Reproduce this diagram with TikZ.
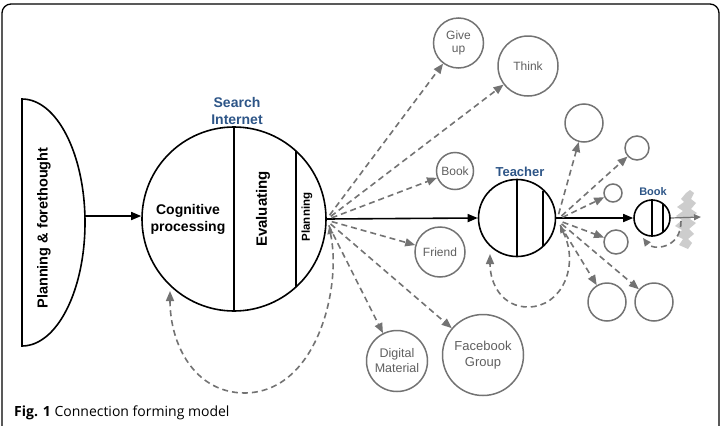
\documentclass[tikz,border=0pt]{standalone}
\usepackage{fontspec}
\setmainfont{Liberation Sans}
\newfontfamily\capfont{Open Sans}
\usetikzlibrary{arrows.meta,calc}
\definecolor{gline}{RGB}{115,115,115}
\definecolor{gcircle}{RGB}{115,115,115}
\definecolor{gtext}{RGB}{95,95,95}
\definecolor{lblue}{RGB}{45,85,135}
\definecolor{jag}{RGB}{205,205,205}
\begin{document}
\begin{tikzpicture}[x=1pt,y=-1pt,
  blk/.style={draw=black, line width=1.6pt, circle, inner sep=0pt},
  gcirc/.style={draw=gcircle, line width=1.5pt, circle, inner sep=0pt, text=gtext, font=\fontsize{12}{13.5}\selectfont, align=center},
  darr/.style={draw=gline, line width=1.6pt, dash pattern=on 6pt off 4pt, -{Triangle[length=10pt,width=8pt]}, shorten <=6pt},
  sarr/.style={draw=black, line width=1.6pt, -{Triangle[length=10pt,width=8pt]}},
  bluelabel/.style={text=lblue, font=\bfseries\fontsize{13}{17}\selectfont, align=center},
  boldtxt/.style={font=\bfseries\fontsize{14}{17}\selectfont, align=center},
]
\useasboundingbox (0,0) rectangle (721,426);
% frame
\draw[line width=1.3pt, rounded corners=9pt] (2,440) -- (2,4) -- (719,4) -- (719,440);

% half ellipse
\draw[line width=1.6pt] (22,99) -- (22,346) .. controls (56.8,346) and (85,290.7) .. (85,222.5) .. controls (85,154.3) and (56.8,99) .. cycle;
\coordinate (pfE) at (85,216);
\node[rotate=90, font=\bfseries\fontsize{14.5}{16}\selectfont] (pftext) at (44,228) {Planning \& forethought};

% main black circles
\node[blk, minimum size=184pt] (big) at (234,219) {};
\node[blk, minimum size=77pt] (teacher) at (517,218) {};
\node[blk, minimum size=36pt] (bookc) at (652,218) {};

% dividers
\draw[line width=1.6pt] (big.north) -- (big.south);
\draw[line width=1.6pt] (296,151) -- (296,287);
\draw[line width=1.6pt] (teacher.north) -- (teacher.south);
\draw[line width=1.6pt] (543,190.5) -- (543,245.5);
\draw[line width=1.4pt] (bookc.north) -- (bookc.south);
\draw[line width=1.4pt] (663,204) -- (663,232);

% texts in big circle
\node[boldtxt] (cog) at (188,219) {Cognitive\\processing};
\node[rotate=90, font=\bfseries\fontsize{15}{17}\selectfont] (eval) at (263,209) {Evaluating};
\node[rotate=90, font=\bfseries\fontsize{11.5}{13}\selectfont] (plan) at (307,217) {Planning};
\node[bluelabel, font=\bfseries\fontsize{14}{17}\selectfont] (search) at (237,110.5) {Search\\Internet};
\node[bluelabel] (teacherlbl) at (520,172) {Teacher};
\node[bluelabel, font=\bfseries\fontsize{11}{13}\selectfont] (booklbl) at (653,192) {Book};

% gray circles
\node[gcirc, minimum size=50pt] (giveup) at (458.5,43) {Give\\up};
\node[gcirc, minimum size=60pt] (think) at (528,66) {Think};
\node[gcirc, minimum size=37pt] (bookg) at (455,171) {Book};
\node[gcirc, minimum size=50pt] (friend) at (440,252) {Friend};
\node[gcirc, minimum size=61pt, font=\fontsize{12.5}{15}\selectfont] (digital) at (397,361) {Digital\\Material};
\node[gcirc, minimum size=81pt, font=\fontsize{13}{16}\selectfont] (facebook) at (483,355) {Facebook\\Group};
\node[gcirc, minimum size=38pt] (s1) at (584,123) {};
\node[gcirc, minimum size=24pt] (s2) at (637,148) {};
\node[gcirc, minimum size=18pt] (s3) at (613,193) {};
\node[gcirc, minimum size=24pt] (s4) at (616,242) {};
\node[gcirc, minimum size=38pt] (s5) at (607,302) {};
\node[gcirc, minimum size=38pt] (s6) at (654,302) {};

% emanation points
\coordinate (e1) at (326,220);
\coordinate (e2) at (557,220);
\coordinate (bl) at (170,291);
\coordinate (tl) at (490,254);
\coordinate (bkl) at (643,238);

% solid arrows
\draw[sarr] (pfE) -- (big.west |- pfE);
\draw[sarr] (big.east) -- (teacher.west);
\draw[sarr] (teacher.east) -- (bookc.west);

% dashed arrows from big circle
\draw[darr] (e1) -- (giveup);
\draw[darr] (e1) -- (think);
\draw[darr] (e1) -- (bookg);
\draw[darr] (e1) -- (friend);
\draw[darr] (e1) -- (facebook);
\draw[darr] (e1) -- (digital);
\draw[darr, shorten <=0pt, {Triangle[length=7pt,width=6pt]}-{Triangle[length=10pt,width=8pt]}] (329,227) .. controls (342,285) and (318,392) .. (245,393) .. controls (195,393) and (170,345) .. (bl);

% dashed arrows from teacher
\draw[darr] (e2) -- (s1);
\draw[darr] (e2) -- (s2);
\draw[darr] (e2) -- (s3);
\draw[darr] (e2) -- (s4);
\draw[darr] (e2) -- (s5);
\draw[darr] (e2) -- (s6);
\draw[darr, shorten <=0pt, {Triangle[length=7pt,width=6pt]}-{Triangle[length=10pt,width=8pt]}] (560,226) .. controls (580,265) and (562,307) .. (528,307) .. controls (503,307) and (490,285) .. (tl);

% book: jagged shape, arrow, loop
\fill[jag] (686,193) -- (681,199) -- (684,202) -- (677,207) -- (683,211) -- (676,216) -- (682,220) -- (675,226) -- (682,230) -- (677,236) -- (683,239) -- (679,245) -- (688,249) -- (692,243) -- (688,239) -- (694,234) -- (689,229) -- (696,223) -- (690,219) -- (697,213) -- (691,209) -- (696,203) -- (691,199) -- (694,193) -- (690,190) -- cycle;
\coordinate (bookarr) at (701,217);
\draw[draw=gline, line width=1.2pt, -{Triangle[length=7pt,width=6pt]}] (bookc.east) -- (bookarr);
\draw[darr, shorten <=0pt, -{Triangle[length=8pt,width=7pt]}] (681,221) .. controls (681,250) and (652,250) .. (bkl);

% caption
\node[anchor=base west, font=\capfont\fontsize{14}{16}\selectfont, inner sep=0pt] (cap) at (14,416) {\textbf{Fig. 1} Connection forming model};
\end{tikzpicture}
\end{document}
